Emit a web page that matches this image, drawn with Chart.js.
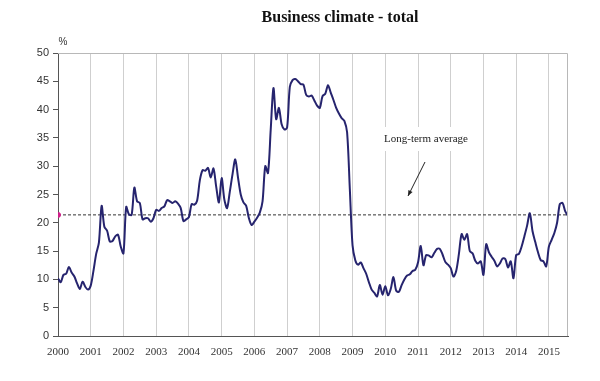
<!DOCTYPE html>
<html>
<head>
<meta charset="utf-8">
<script src="https://cdn.jsdelivr.net/npm/chart.js@4.4.1/dist/chart.umd.min.js"></script>
<style>
  html, body { margin: 0; padding: 0; background: #fff; }
  #wrap { width: 600px; height: 381px; }
</style>
</head>
<body>
<div id="wrap"><canvas id="climateChart" width="600" height="381"></canvas></div>
<script>
// Year labels on the x axis (one tick every 12 months)
const years = [2000, 2001, 2002, 2003, 2004, 2005, 2006, 2007, 2008, 2009, 2010, 2011, 2012, 2013, 2014, 2015];

// Monthly values, Jan 2000 - Aug 2015 (%)
const businessClimate = [
    10.2, 9.5, 10.8, 11.0, 12.2, 11.2, 10.5, 9.3, 8.3, 9.6, 8.7, 8.2,        // 2000
    8.9, 11.5, 14.5, 16.5, 23.0, 19.3, 18.6, 16.7, 16.8, 17.6, 17.9, 15.8,    // 2001
    14.6, 22.8, 21.5, 21.4, 26.2, 23.8, 23.5, 20.6, 20.8, 20.8, 20.2, 20.8,   // 2002
    22.3, 22.1, 22.6, 22.9, 24.0, 23.8, 23.5, 23.8, 23.4, 22.6, 20.3, 20.6,   // 2003
    21.0, 23.3, 23.2, 23.9, 27.5, 29.3, 29.2, 29.7, 28.0, 29.6, 26.4, 23.6,   // 2004
    27.9, 24.1, 22.6, 25.5, 28.6, 31.2, 28.0, 25.0, 23.6, 23.0, 20.8, 19.6,   // 2005
    20.2, 20.9, 21.8, 23.8, 30.0, 28.8, 36.5, 43.8, 38.3, 40.3, 37.4, 36.5,   // 2006
    36.8, 44.0, 45.2, 45.4, 45.0, 44.5, 44.4, 42.6, 42.3, 42.5, 41.6, 40.7,   // 2007
    40.3, 42.4, 42.8, 44.3, 43.0, 41.7, 40.3, 39.3, 38.5, 38.0, 36.0, 26.0,   // 2008
    16.0, 13.4, 12.6, 13.0, 12.0, 11.0, 9.5, 8.2, 7.6, 7.0, 9.0, 7.3,         // 2009
    8.8, 7.2, 8.3, 10.4, 8.0, 7.8, 9.0, 10.0, 10.7, 10.9, 11.5, 11.7,         // 2010
    13.0, 15.9, 12.5, 14.3, 14.2, 13.9, 14.7, 15.4, 15.4, 14.4, 13.1, 12.6,   // 2011
    12.0, 10.5, 11.5, 14.5, 18.0, 17.0, 18.0, 15.0, 14.6, 13.3, 12.8, 13.2,   // 2012
    10.8, 16.2, 14.8, 14.0, 13.3, 12.3, 12.8, 13.7, 13.6, 12.1, 13.2, 10.2,   // 2013
    14.3, 14.5, 15.8, 17.6, 19.5, 21.7, 18.5, 16.6, 14.8, 13.4, 13.2, 12.3,   // 2014
    15.8, 17.0, 18.2, 20.0, 23.3, 23.5, 22.0, 21.2                            // 2015
];

const longTermAverage = 21.4;
const yMin = 0, yMax = 50, yStep = 5;

const lastMonth = businessClimate.length - 1;

// Title, % label, annotation and plot frame
const decorations = {
    id: 'decorations',
    beforeDatasetsDraw(chart) {
        const ctx = chart.ctx;
        ctx.save();
        // white box behind the annotation text hides the gridlines
        ctx.fillStyle = '#fff';
        ctx.fillRect(372, 127, 108, 24);
        ctx.restore();
    },
    afterDraw(chart) {
        const ctx = chart.ctx;
        const a = chart.chartArea;
        ctx.save();

        // frame: top and right edges
        ctx.strokeStyle = '#b8b8b8';
        ctx.lineWidth = 1;
        ctx.beginPath();
        ctx.moveTo(a.left, a.top + 0.5);
        ctx.lineTo(a.right - 0.5, a.top + 0.5);
        ctx.lineTo(a.right - 0.5, a.bottom);
        ctx.stroke();

        // title
        ctx.fillStyle = '#111';
        ctx.font = 'bold 16px "Liberation Serif", serif';
        ctx.textAlign = 'center';
        ctx.textBaseline = 'middle';
        ctx.fillText('Business climate - total', 340, 18);

        // unit
        ctx.font = '10px "Liberation Sans", sans-serif';
        ctx.fillStyle = '#333';
        ctx.fillText('%', 63, 42);

        // annotation
        ctx.font = '11px "Liberation Serif", serif';
        ctx.fillStyle = '#222';
        ctx.fillText('Long-term average', 426, 139);

        // arrow
        const x1 = 425, y1 = 162, x2 = 408, y2 = 196;
        ctx.strokeStyle = '#222';
        ctx.lineWidth = 1;
        ctx.beginPath();
        ctx.moveTo(x1, y1);
        ctx.lineTo(x2, y2);
        ctx.stroke();
        const ang = Math.atan2(y2 - y1, x2 - x1);
        ctx.beginPath();
        ctx.moveTo(x2, y2);
        ctx.lineTo(x2 - 6 * Math.cos(ang - 0.4), y2 - 6 * Math.sin(ang - 0.4));
        ctx.lineTo(x2 - 6 * Math.cos(ang + 0.4), y2 - 6 * Math.sin(ang + 0.4));
        ctx.closePath();
        ctx.fillStyle = '#222';
        ctx.fill();

        ctx.restore();
    }
};

const ctx = document.getElementById('climateChart').getContext('2d');
new Chart(ctx, {
    type: 'line',
    data: {
        datasets: [
            {
                label: 'Business climate',
                data: businessClimate.map((v, i) => ({ x: i, y: v })),
                borderColor: '#26246e',
                borderWidth: 2,
                pointRadius: 0,
                tension: 0.3,
                fill: false,
                order: 1
            },
            {
                label: 'Long-term average',
                data: [{ x: 0, y: longTermAverage }, { x: lastMonth, y: longTermAverage }],
                borderColor: '#333',
                borderWidth: 1,
                borderDash: [3, 2],
                pointRadius: [2.5, 0],
                pointBackgroundColor: '#d0208a',
                pointBorderColor: '#d0208a',
                fill: false,
                order: 2
            }
        ]
    },
    options: {
        responsive: false,
        animation: false,
        devicePixelRatio: 1,
        layout: { padding: { left: 0, right: 32, top: 53, bottom: 0 } },
        plugins: {
            legend: { display: false },
            tooltip: { enabled: false }
        },
        scales: {
            x: {
                type: 'linear',
                min: 0,
                max: lastMonth,
                afterBuildTicks: s => { s.ticks = years.map((y, i) => ({ value: i * 12 })); },
                afterFit: s => { s.height = 45; },
                ticks: {
                    callback: v => years[Math.round(v / 12)],
                    maxRotation: 0,
                    autoSkip: false,
                    padding: 10,
                    color: '#333',
                    font: { family: '"Liberation Serif", serif', size: 11 }
                },
                grid: { color: '#cfcfcf', lineWidth: 1, tickLength: 0 },
                border: { color: '#555', width: 1 }
            },
            y: {
                min: yMin,
                max: yMax,
                afterFit: s => { s.width = 58; },
                ticks: {
                    stepSize: yStep,
                    padding: 4,
                    color: '#333',
                    font: { family: '"Liberation Sans", sans-serif', size: 11 }
                },
                grid: { drawOnChartArea: false, tickLength: 5, color: '#555' },
                border: { color: '#555', width: 1 }
            }
        }
    },
    plugins: [decorations]
});
</script>
</body>
</html>
